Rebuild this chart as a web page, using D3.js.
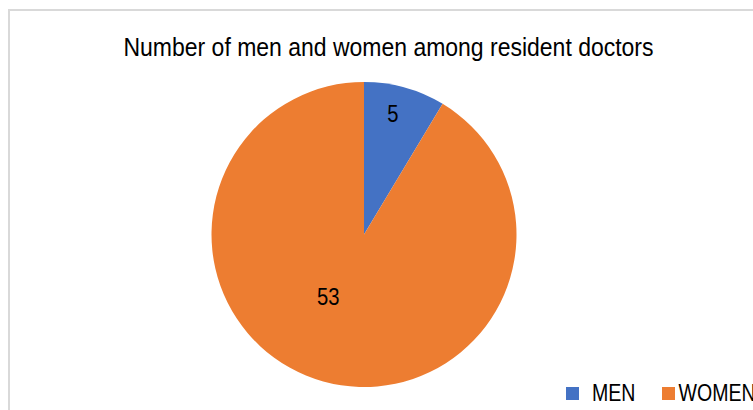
<!DOCTYPE html>
<html>
<head>
<meta charset="utf-8">
<script src="https://cdn.jsdelivr.net/npm/d3@7/dist/d3.min.js"></script>
<style>
  html, body { margin: 0; padding: 0; background: #ffffff; overflow: hidden; }
  svg { display: block; }
  text { font-family: "Liberation Sans Narrow", "Arial Narrow", "Liberation Sans", Arial, sans-serif; fill: #000000; }
</style>
</head>
<body>
<svg id="chart" width="753" height="410"></svg>
<script>
// Resident doctors by sex
const categories = ["MEN", "WOMEN"];
const counts = [5, 53];
const colors = ["#4472C4", "#ED7D31"];
const title = "Number of men and women among resident doctors";

const svg = d3.select("#chart");
const W = 753, H = 410;
// horizontal squeeze to get a condensed sans look from the regular face
const NARROW = 0.85;

// chart frame (extends past the window on the right and bottom)
svg.append("rect")
  .attr("x", 9).attr("y", 10)
  .attr("width", W + 20).attr("height", H + 20)
  .attr("fill", "#ffffff")
  .attr("stroke", "#d9d9d9")
  .attr("stroke-width", 2);

svg.append("text")
  .attr("x", 388.5).attr("y", 55.5)
  .attr("text-anchor", "middle")
  .attr("font-size", 26.5)
  .attr("textLength", 530)
  .attr("lengthAdjust", "spacingAndGlyphs")
  .text(title);

const cx = 364, cy = 234.5, r = 152.5;
const data = categories.map((c, i) => ({ category: c, value: counts[i], color: colors[i] }));

const pie = d3.pie().value(d => d.value).sort(null);
const arc = d3.arc().innerRadius(0).outerRadius(r);
const arcs = pie(data);

const g = svg.append("g").attr("transform", `translate(${cx},${cy})`);
g.selectAll("path.slice")
  .data(arcs)
  .join("path")
  .attr("class", "slice")
  .attr("d", arc)
  .attr("fill", d => d.data.color);

// data labels: placed along each slice at a chosen radius, with a small
// angular shift for the large slice so the label sits left of centre
const labelRadius = [0.81, 0.47];
const labelShift = [-2 * Math.PI / 180, 14.5 * Math.PI / 180];
g.selectAll("text.value")
  .data(arcs)
  .join("text")
  .attr("class", "value")
  .attr("text-anchor", "middle")
  .attr("dominant-baseline", "central")
  .attr("font-size", 23.5)
  .attr("transform", (d, i) => {
    const a = (d.startAngle + d.endAngle) / 2 + labelShift[i];
    const rr = r * labelRadius[i];
    return `translate(${rr * Math.sin(a)},${-rr * Math.cos(a)}) scale(0.86,1)`;
  })
  .text(d => d.data.value);

// legend
const legendX = [566, 662];
const legend = svg.selectAll("g.legend")
  .data(data)
  .join("g")
  .attr("class", "legend")
  .attr("transform", (d, i) => `translate(${legendX[i]},387)`);
legend.append("rect")
  .attr("width", 13).attr("height", 13)
  .attr("fill", d => d.color);
legend.append("text")
  .attr("transform", (d, i) => `translate(${i === 0 ? 26 : 16.5},13.7) scale(${NARROW},1)`)
  .attr("font-size", 23)
  .text(d => d.category);
</script>
</body>
</html>
